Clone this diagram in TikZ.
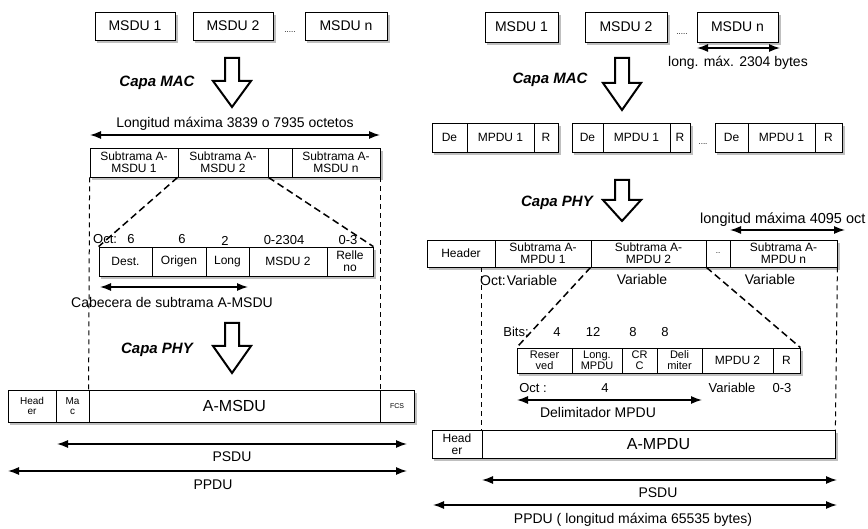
\documentclass[tikz,border=0pt]{standalone}
\usepackage{fontspec}
\setmainfont{Liberation Sans}
\usetikzlibrary{arrows.meta,backgrounds}
\newcommand\myfs[1]{\fontsize{#1}{#1}\selectfont}
\newcommand\myshad[2]{\fill[black!25] ([shift={(2.5pt,-3pt)}]#1.north west) rectangle ([shift={(2.5pt,-3pt)}]#2.south east);}
\begin{document}
\begin{tikzpicture}[x=1pt,y=-1pt,
 cell/.style={draw, line width=0.8pt, fill=white, inner sep=0pt, align=center, font=\myfs{12}},
 lab/.style={inner sep=0pt, font=\myfs{14}},
 capa/.style={inner sep=0pt, font=\myfs{15}\bfseries\itshape},
 dim/.style={line width=1.4pt, {Latex[length=11pt,width=8pt]}-{Latex[length=11pt,width=8pt]}},
 dshd/.style={line width=1.5pt, dash pattern=on 7pt off 4pt},
 dshv/.style={line width=1pt, dash pattern=on 5pt off 4pt},
 bigarrow/.style={line width=2pt, fill=white, line join=miter}
]
\useasboundingbox (0,0) rectangle (868,529);

% ================= LEFT =================
\node[cell, font=\myfs{14}, minimum width=80pt, minimum height=28pt] (m1) at (135,26) {MSDU 1};
\node[cell, font=\myfs{14}, minimum width=80pt, minimum height=28pt] (m2) at (233,26) {MSDU 2};
\node[cell, font=\myfs{14}, minimum width=82pt, minimum height=28pt] (m3) at (346,26) {MSDU n};
\node[inner sep=0pt, font=\myfs{8}] (dl1) at (290,32) {.....};

\draw[bigarrow] (225,58) -- (239,58) -- (239,81) -- (251,81) -- (232,107) -- (213,81) -- (225,81) -- cycle;
\node[capa] (cm1) at (157,83) {Capa MAC};

\node[lab] (lmax) at (235,124) {Longitud máxima 3839 o 7935 octetos};
\coordinate (a1l) at (90,135); \coordinate (a1r) at (380,135);
\draw[dim] (a1l) -- (a1r);

\node[cell, minimum width=88pt, minimum height=29pt] (ls1) at (134,162.5) {Subtrama A-\\MSDU 1};
\node[cell, minimum width=90pt, minimum height=29pt] (ls2) at (223,162.5) {Subtrama A-\\MSDU 2};
\node[cell, minimum width=24pt, minimum height=29pt] (ls3) at (280,162.5) {};
\node[cell, minimum width=88pt, minimum height=29pt] (ls4) at (336,162.5) {Subtrama A-\\MSDU n};

\node[lab, font=\myfs{13}, anchor=west] (oc1) at (93,239) {Oct:};
\node[lab, font=\myfs{13}] (o1) at (131,239) {6};
\node[lab, font=\myfs{13}] (o2) at (182,239) {6};
\node[lab, font=\myfs{13}] (o3) at (225,241) {2};
\node[lab, font=\myfs{13}] (o4) at (284,240) {0-2304};
\node[lab, font=\myfs{13}] (o5) at (348,240) {0-3};

\node[cell, minimum width=53pt, minimum height=29pt] (d1) at (125.5,261.5) {Dest.};
\node[cell, minimum width=54pt, minimum height=29pt] (d2) at (179,261.5) {Origen};
\node[cell, minimum width=43pt, minimum height=29pt] (d3) at (227.5,261.5) {Long};
\node[cell, minimum width=78pt, minimum height=29pt] (d4) at (288,261.5) {MSDU 2};
\node[cell, minimum width=46pt, minimum height=29pt] (d5) at (350,261.5) {Relle\\no};

\coordinate (a2l) at (100,287); \coordinate (a2r) at (248,287);
\draw[dim] (a2l) -- (a2r);
\node[lab] (cab) at (172,302) {Cabecera de subtrama A-MSDU};

\draw[bigarrow] (225,323) -- (239,323) -- (239,346) -- (251,346) -- (232,373) -- (213,346) -- (225,346) -- cycle;
\node[capa] (cp1) at (157,350) {Capa PHY};

\node[cell, font=\myfs{10}, minimum width=48pt, minimum height=32pt] (b1) at (32,406) {Head\\er};
\node[cell, font=\myfs{10}, minimum width=33pt, minimum height=32pt] (b2) at (72.5,406) {Ma\\c};
\node[cell, font=\myfs{16}, minimum width=291pt, minimum height=32pt] (b3) at (234.5,406) {A-MSDU};
\node[cell, font=\myfs{7}, minimum width=34pt, minimum height=32pt] (b4) at (397,406) {FCS};

\draw[dshv] (ls1.south west) -- (b3.north west);
\draw[dshv] (ls4.south east) -- (b3.north east);
\draw[dshd] (ls2.south west) -- (d1.north west);
\draw[dshd] (ls2.south east) -- (d5.north east);

\coordinate (a3l) at (57,444); \coordinate (a3r) at (407,444);
\draw[dim] (a3l) -- (a3r);
\node[lab] (psl) at (232,457) {PSDU};
\coordinate (a4l) at (8,471); \coordinate (a4r) at (407,471);
\draw[dim] (a4l) -- (a4r);
\node[lab] (ppl) at (213,485) {PPDU};

% ================= RIGHT =================
\node[cell, font=\myfs{14}, minimum width=73pt, minimum height=30pt] (r1) at (521.5,27) {MSDU 1};
\node[cell, font=\myfs{14}, minimum width=82pt, minimum height=30pt] (r2) at (626,27) {MSDU 2};
\node[cell, font=\myfs{14}, minimum width=81pt, minimum height=30pt] (r3) at (737.5,27) {MSDU n};
\node[inner sep=0pt, font=\myfs{8}] (dr1) at (682,34) {.....};

\coordinate (a5l) at (697,48); \coordinate (a5r) at (780,48);
\draw[dim] (a5l) -- (a5r);
\node[lab] (lmx) at (738,63) {long. máx. 2304 bytes};

\draw[bigarrow] (615,58) -- (629,58) -- (629,83) -- (641,83) -- (622,110) -- (603,83) -- (615,83) -- cycle;
\node[capa] (cm2) at (550,80) {Capa MAC};

\node[cell, minimum width=35pt, minimum height=29pt] (g1a) at (449.5,137.5) {De};
\node[cell, minimum width=67pt, minimum height=29pt] (g1b) at (500.5,137.5) {MPDU 1};
\node[cell, minimum width=24pt, minimum height=29pt] (g1c) at (546,137.5) {R};
\node[cell, minimum width=31pt, minimum height=29pt] (g2a) at (587.5,137.5) {De};
\node[cell, minimum width=67pt, minimum height=29pt] (g2b) at (636.5,137.5) {MPDU 1};
\node[cell, minimum width=20pt, minimum height=29pt] (g2c) at (680,137.5) {R};
\node[inner sep=0pt, font=\myfs{8}] (dr2) at (703,144) {....};
\node[cell, minimum width=33pt, minimum height=29pt] (g3a) at (731.5,137.5) {De};
\node[cell, minimum width=67pt, minimum height=29pt] (g3b) at (781.5,137.5) {MPDU 1};
\node[cell, minimum width=27pt, minimum height=29pt] (g3c) at (828.5,137.5) {R};

\draw[bigarrow] (615,180) -- (629,180) -- (629,200) -- (641,200) -- (622,221) -- (603,200) -- (615,200) -- cycle;
\node[capa] (cp2) at (557,203) {Capa PHY};

\node[lab, font=\myfs{14.5}, anchor=west] (lmx2) at (700,220) {longitud máxima 4095 oct};
\coordinate (a6l) at (730,230); \coordinate (a6r) at (845,230);
\draw[dim] (a6l) -- (a6r);

\node[cell, minimum width=68pt, minimum height=27pt] (rh) at (461,253.5) {Header};
\node[cell, minimum width=96pt, minimum height=27pt] (s1) at (543,253.5) {Subtrama A-\\MPDU 1};
\node[cell, minimum width=115pt, minimum height=27pt] (s2) at (648.5,253.5) {Subtrama A-\\MPDU 2};
\node[cell, font=\myfs{8}, minimum width=24pt, minimum height=27pt] (s3) at (718,253.5) {..};
\node[cell, minimum width=107pt, minimum height=27pt] (s4) at (783.5,253.5) {Subtrama A-\\MPDU n};

\node[lab, anchor=west] (ov1) at (480,280) {Oct:\kern1pt Variable};
\node[lab] (ov2) at (642,279) {Variable};
\node[lab] (ov3) at (770,279) {Variable};

\node[lab, font=\myfs{13}] (bt) at (516,332) {Bits:};
\node[lab, font=\myfs{13}] (bt1) at (557,332) {4};
\node[lab, font=\myfs{13}] (bt2) at (593,332) {12};
\node[lab, font=\myfs{13}] (bt3) at (633,332) {8};
\node[lab, font=\myfs{13}] (bt4) at (665,332) {8};

\node[cell, font=\myfs{11}, minimum width=55pt, minimum height=25pt] (e1) at (544.5,360.5) {Reser\\ved};
\node[cell, font=\myfs{11}, minimum width=50pt, minimum height=25pt] (e2) at (597,360.5) {Long.\\MPDU};
\node[cell, font=\myfs{11}, minimum width=35pt, minimum height=25pt] (e3) at (639.5,360.5) {CR\\C};
\node[cell, font=\myfs{11}, minimum width=45pt, minimum height=25pt] (e4) at (679.5,360.5) {Deli\\miter};
\node[cell, font=\myfs{12}, minimum width=71pt, minimum height=25pt] (e5) at (737.5,360.5) {MPDU 2};
\node[cell, font=\myfs{12}, minimum width=27pt, minimum height=25pt] (e6) at (786.5,360.5) {R};

\node[lab, font=\myfs{13}] (q1) at (533,388) {Oct :};
\node[lab, font=\myfs{13}] (q2) at (605,388) {4};
\node[lab, font=\myfs{13}] (q3) at (732,388) {Variable};
\node[lab, font=\myfs{13}] (q4) at (782,388) {0-3};

\coordinate (a7l) at (517,400); \coordinate (a7r) at (702,400);
\draw[dim] (a7l) -- (a7r);
\node[lab] (del) at (598,412) {Delimitador MPDU};

\node[cell, minimum width=50pt, minimum height=28pt] (ah) at (457,444) {Head\\er};
\node[cell, font=\myfs{16}, minimum width=353pt, minimum height=28pt] (am) at (658.5,444) {A-MPDU};

\draw[dshv] (am.north west |- rh.south) -- (am.north west);
\draw[dshv] (s4.south east) -- (am.north east);
\draw[dshd] (s2.south west) -- (e1.north west);
\draw[dshd] (s2.south east) -- (e6.north east);

\coordinate (a8l) at (482,480); \coordinate (a8r) at (837,480);
\draw[dim] (a8l) -- (a8r);
\node[lab] (ps2) at (658,493) {PSDU};
\coordinate (a9l) at (433,505); \coordinate (a9r) at (837,505);
\draw[dim] (a9l) -- (a9r);
\node[lab] (pp2) at (633,520) {PPDU ( longitud máxima 65535 bytes)};

% ---- shadows behind the boxes ----
\begin{scope}[on background layer]
\fill[white] (0,0) rectangle (868,529);
\myshad{m1}{m1} \myshad{m2}{m2} \myshad{m3}{m3}
\myshad{ls1}{ls4} \myshad{d1}{d5} \myshad{b1}{b4}
\myshad{r1}{r1} \myshad{r2}{r2} \myshad{r3}{r3}
\myshad{g1a}{g1c} \myshad{g2a}{g2c} \myshad{g3a}{g3c}
\myshad{rh}{s4} \myshad{e1}{e6} \myshad{ah}{am}
\end{scope}
\end{tikzpicture}
\end{document}
